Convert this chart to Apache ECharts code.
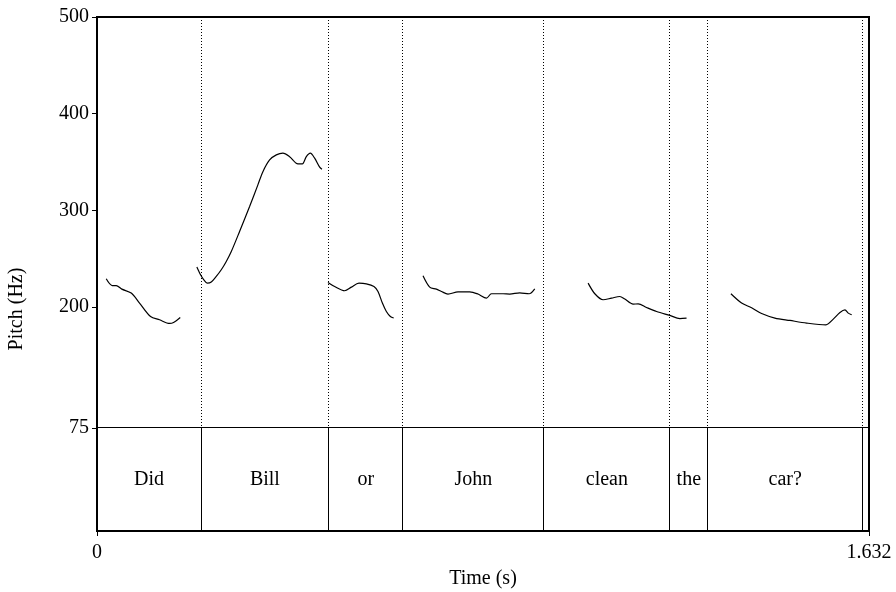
<!DOCTYPE html>
<html><head><meta charset="utf-8">
<script src="https://cdn.jsdelivr.net/npm/echarts@6/dist/echarts.min.js"></script>
<style>html,body{margin:0;padding:0;background:#fff}#c{width:896px;height:592px}</style>
</head><body><div id="c"></div>
<script>
// Pitch contour segments: [time (s), pitch (Hz)]
const pitchDid = [[0.0195,229.3],[0.0322,222.3],[0.0406,222.3],[0.0525,218.6],[0.0723,214.5],[0.0899,204.2],[0.1132,190.3],[0.1322,186.9],[0.1534,183.1],[0.1618,184.1],[0.1760,189.3]];
const pitchBill = [[0.2111,241.4],[0.2189,233.4],[0.2259,228.2],[0.2331,224.8],[0.2416,225.9],[0.2521,231.7],[0.2627,238.6],[0.2733,247.2],[0.2839,257.5],[0.3014,278.2],[0.3226,304.0],[0.3401,326.4],[0.3507,340.1],[0.3649,352.2],[0.3791,357.4],[0.3930,359.2],[0.4072,355.6],[0.4248,348.1],[0.4341,348.1],[0.4425,355.6],[0.4510,359.2],[0.4601,354.0],[0.4707,344.7],[0.4755,342.6]];
const pitchOr = [[0.4882,225.5],[0.5024,221.3],[0.5235,216.9],[0.5377,220.7],[0.5538,224.8],[0.5694,224.1],[0.5855,221.3],[0.5940,216.2],[0.6033,204.2],[0.6117,195.5],[0.6202,190.3],[0.6272,188.7]];
const pitchJohn = [[0.6892,232.4],[0.7033,220.7],[0.7175,218.6],[0.7281,216.2],[0.7420,213.5],[0.7632,215.8],[0.7879,215.8],[0.8055,213.5],[0.8233,209.3],[0.8339,213.8],[0.8584,213.8],[0.8726,213.5],[0.8937,214.8],[0.9134,213.8],[0.9254,218.9]];
const pitchClean = [[1.0382,224.8],[1.0524,213.8],[1.0699,207.6],[1.0877,209.3],[1.1052,211.0],[1.1158,208.3],[1.1334,203.1],[1.1440,203.4],[1.1617,199.6],[1.1829,195.5],[1.2110,191.4],[1.2322,188.2],[1.2463,188.7]];
const pitchCar = [[1.3401,213.8],[1.3627,204.2],[1.3838,199.3],[1.4050,193.4],[1.4331,188.7],[1.4649,186.2],[1.5002,183.5],[1.5410,181.7],[1.5565,187.6],[1.5706,194.5],[1.5812,197.2],[1.5882,193.8],[1.5954,192.1]];

// TextGrid tier
const wordLabels = ['Did','Bill','or','John','clean','the','car?'];
const boundaries = [0, 0.2199, 0.4900, 0.6465, 0.9445, 1.2113, 1.2908, 1.6189, 1.632];

// Axis ticks
const yTicks = [75, 200, 300, 400, 500];
const xTicks = [0, 1.632];
const yRange = [75, 500];
const xRange = [0, 1.632];

const FONT = 'Liberation Serif';
const innerBounds = boundaries.slice(1, -1);
const segs = [pitchDid, pitchBill, pitchOr, pitchJohn, pitchClean, pitchCar];

const series = segs.map(s => ({
  type: 'line', xAxisIndex: 0, yAxisIndex: 0, data: s,
  showSymbol: false, smooth: 0.3, silent: true, animation: false,
  lineStyle: { color: '#000', width: 1.2 }
}));

function vline(yTop, yBot, dashed) {
  return (params, api) => {
    const a = api.coord([api.value(0), yTop]);
    const b = api.coord([api.value(0), yBot]);
    const x = Math.round(a[0] - 0.5) + 0.5;
    return { type: 'line', shape: { x1: x, y1: a[1], x2: x, y2: b[1] },
      style: { stroke: '#000', lineWidth: 1, lineDash: dashed ? [1, 2] : null } };
  };
}

// dotted boundaries in the pitch panel
series.push({
  type: 'custom', xAxisIndex: 0, yAxisIndex: 0, silent: true, animation: false,
  data: innerBounds.map(b => [b]), renderItem: vline(yRange[1], yRange[0], true)
});
// solid boundaries in the tier
series.push({
  type: 'custom', xAxisIndex: 1, yAxisIndex: 1, silent: true, animation: false,
  data: innerBounds.map(b => [b]), renderItem: vline(1, 0, false)
});
// tier labels
series.push({
  type: 'custom', xAxisIndex: 1, yAxisIndex: 1, silent: true, animation: false,
  data: wordLabels.map((w, i) => [(boundaries[i] + boundaries[i + 1]) / 2, 0.5]),
  renderItem: (params, api) => {
    const p = api.coord([api.value(0), api.value(1)]);
    return { type: 'text', x: p[0], y: p[1],
      style: { text: wordLabels[params.dataIndex], fill: '#000', font: '20px "Liberation Serif"', align: 'center', verticalAlign: 'middle' } };
  }
});

const chart = echarts.init(document.getElementById('c'), null, { renderer: 'canvas' });
chart.setOption({
  animation: false,
  backgroundColor: '#fff',
  grid: [
    { left: 97, top: 17, width: 772, height: 411 },
    { left: 97, top: 427.5, width: 772, height: 103.5, show: true, borderColor: '#000', borderWidth: 1, backgroundColor: 'transparent' },
    { left: 97, top: 17, width: 772, height: 514, show: true, borderColor: '#000', borderWidth: 2, backgroundColor: 'transparent' }
  ],
  xAxis: [
    { gridIndex: 0, type: 'value', min: xRange[0], max: xRange[1], show: false },
    { gridIndex: 1, type: 'value', min: xRange[0], max: xRange[1], position: 'bottom',
      axisLine: { show: false }, splitLine: { show: false },
      axisTick: { show: true, length: 5, customValues: xTicks, lineStyle: { color: '#000', width: 1 } },
      axisLabel: { customValues: xTicks, margin: 12, color: '#000', fontFamily: FONT, fontSize: 20,
        formatter: v => (v === 0 ? '0' : String(v)) },
      name: 'Time (s)', nameLocation: 'middle', nameGap: 38,
      nameTextStyle: { color: '#000', fontFamily: FONT, fontSize: 20 } },
    { gridIndex: 2, type: 'value', min: 0, max: 1, show: false }
  ],
  yAxis: [
    { gridIndex: 0, type: 'value', min: yRange[0], max: yRange[1],
      axisLine: { show: false }, splitLine: { show: false },
      axisTick: { show: true, length: 5, customValues: yTicks, lineStyle: { color: '#000', width: 1 } },
      axisLabel: { customValues: yTicks, margin: 8, color: '#000', fontFamily: FONT, fontSize: 20 } },
    { gridIndex: 1, type: 'value', min: 0, max: 1, show: false },
    { gridIndex: 2, type: 'value', min: 0, max: 1, show: false }
  ],
  graphic: [{
    type: 'text', x: 17, y: 309, rotation: Math.PI / 2, silent: true,
    style: { text: 'Pitch (Hz)', font: '20px "Liberation Serif"', fill: '#000', align: 'center', verticalAlign: 'middle' }
  }],
  series: series
});
</script></body></html>
